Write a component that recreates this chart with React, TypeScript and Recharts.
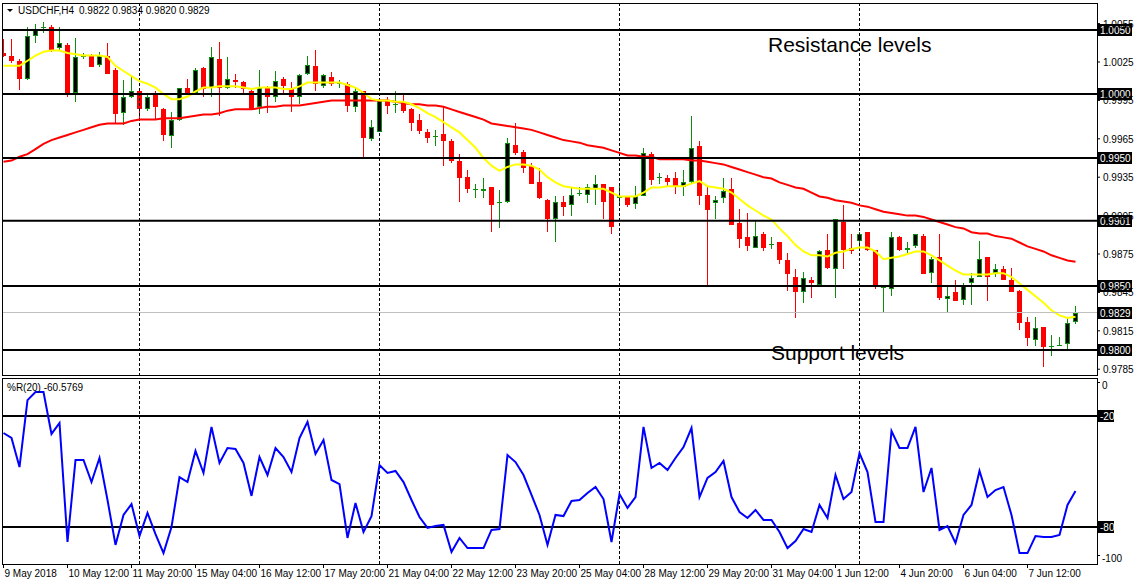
import React from "react";
import { ComposedChart, Bar, Line, XAxis, YAxis, ReferenceLine } from "recharts";

const FONT = "'Liberation Sans', Arial, sans-serif";
const UP = "#0e8c0e";
const DOWN = "#ff0000";

// USDCHF H4, bar 0 = 9 May 04:00
const OPEN = [
  1.0032, 1.003, 1.0026, 1.0012, 1.0045, 1.0052, 1.0052, 1.0036, 1.0038, 1.0001,
  1.0029, 1.003, 1.0023, 1.003, 1.0019, 0.9985, 0.9998, 1.0002, 0.9988, 0.9999,
  0.9988, 0.9967, 0.998, 1.0005, 1.0001, 1.002, 1.0005, 1.0027, 1.0005, 1.0011,
  1.0009, 1.0002, 0.999, 1.0005, 0.9998, 1.0012, 1.0005, 0.9998, 1.0016, 1.0022,
  1.0006, 1.0013, 1.0008, 1.0008, 0.999, 1.0002, 0.9965, 0.997, 0.9995, 0.9992,
  0.9993, 0.9988, 0.998, 0.997, 0.9967, 0.9969, 0.9963, 0.9948, 0.9935, 0.9926,
  0.9924, 0.9927, 0.9915, 0.9916, 0.996, 0.9955, 0.9944, 0.9931, 0.9917, 0.9902,
  0.9916, 0.9913, 0.9923, 0.9921, 0.9926, 0.993, 0.9927, 0.9919, 0.992, 0.9914,
  0.992, 0.9953, 0.9934, 0.9934, 0.9934, 0.9927, 0.9931, 0.9959, 0.9921, 0.9915,
  0.9919, 0.9926, 0.9899, 0.9888, 0.988, 0.9891, 0.9883, 0.9884, 0.987, 0.9857,
  0.9845, 0.9855, 0.9851, 0.9878, 0.9863, 0.99, 0.988, 0.9885, 0.9892, 0.9878,
  0.9849, 0.9848, 0.9888, 0.9878, 0.9881, 0.9889, 0.986, 0.9873, 0.984, 0.9845,
  0.9839, 0.9852, 0.9857, 0.9873, 0.986, 0.9863, 0.9855, 0.9846, 0.9822, 0.9808,
  0.9818, 0.9803, 0.9804, 0.9805, 0.9822,
];
const HIGH = [
  1.0043, 1.0043, 1.0027, 1.0052, 1.0055, 1.0056, 1.0054, 1.0052, 1.004, 1.0044,
  1.0032, 1.0031, 1.0033, 1.004, 1.002, 1.0011, 1.0013, 1.0003, 0.9999, 1.0002,
  0.9989, 0.9986, 1.0005, 1.0012, 1.002, 1.0021, 1.0037, 1.0041, 1.0029, 1.0016,
  1.001, 1.0003, 1.0019, 1.0006, 1.0018, 1.0013, 1.0009, 1.0016, 1.003, 1.0034,
  1.0016, 1.0017, 1.0011, 1.0009, 1.0005, 1.0002, 0.998, 0.9997, 0.9998, 1.0002,
  1.0001, 0.9989, 0.9984, 0.9973, 0.9972, 0.9991, 0.9965, 0.9953, 0.9941, 0.993,
  0.9934, 0.9927, 0.9925, 0.9966, 0.9977, 0.9956, 0.9946, 0.9942, 0.9918, 0.992,
  0.992, 0.9927, 0.9927, 0.993, 0.9937, 0.993, 0.9927, 0.993, 0.992, 0.9928,
  0.9958, 0.9955, 0.9938, 0.9937, 0.9939, 0.9941, 0.9983, 0.9963, 0.9928, 0.992,
  0.9934, 0.9934, 0.991, 0.9907, 0.9901, 0.9892, 0.9888, 0.9884, 0.9876, 0.9863,
  0.9861, 0.9857, 0.9878, 0.9891, 0.9902, 0.9913, 0.9891, 0.9892, 0.9892, 0.9878,
  0.9849, 0.9892, 0.9889, 0.9884, 0.9891, 0.9891, 0.9873, 0.9891, 0.9849, 0.9855,
  0.9852, 0.986, 0.9885, 0.9873, 0.9867, 0.9866, 0.9864, 0.9847, 0.9826, 0.9826,
  0.9818, 0.9812, 0.981, 0.9826, 0.9834,
];
const LOW = [
  1.0029, 1.0024, 1.0003, 1.0011, 1.004, 1.0048, 1.0033, 1.0034, 0.9998, 0.9994,
  1.0027, 1.0021, 1.0021, 1.0016, 0.9977, 0.9976, 0.9997, 0.9981, 0.9987, 0.998,
  0.9963, 0.9958, 0.9979, 0.9999, 0.9999, 0.9998, 0.9998, 0.9983, 1.0004, 1.0005,
  1.0001, 0.9988, 0.9984, 0.9985, 0.9994, 1.0001, 0.9986, 0.9992, 1.0015, 1.0002,
  1.0005, 1.0006, 1.0005, 0.9986, 0.9986, 0.9951, 0.9963, 0.997, 0.9984, 0.9985,
  0.9985, 0.9971, 0.9969, 0.9962, 0.9959, 0.9944, 0.9946, 0.9916, 0.9923, 0.9919,
  0.9919, 0.9892, 0.9895, 0.9915, 0.9952, 0.9938, 0.993, 0.9918, 0.9892, 0.9884,
  0.9905, 0.9905, 0.992, 0.9915, 0.9913, 0.9902, 0.9891, 0.9914, 0.9912, 0.991,
  0.992, 0.9929, 0.993, 0.9927, 0.9922, 0.992, 0.993, 0.9913, 0.9849, 0.9902,
  0.9915, 0.9898, 0.988, 0.9877, 0.988, 0.9877, 0.9879, 0.9867, 0.9846, 0.9825,
  0.9837, 0.9841, 0.9849, 0.9863, 0.9841, 0.9863, 0.9875, 0.988, 0.9877, 0.9848,
  0.9829, 0.9842, 0.9877, 0.9874, 0.988, 0.9859, 0.9852, 0.9839, 0.983, 0.9838,
  0.9835, 0.9835, 0.9857, 0.9838, 0.9857, 0.9855, 0.9845, 0.9816, 0.9803, 0.9803,
  0.9787, 0.9795, 0.9803, 0.9801, 0.982,
];
const CLOSE = [
  1.003, 1.0026, 1.0012, 1.0045, 1.0051, 1.0052, 1.0034, 1.004, 1.0001, 1.0029,
  1.003, 1.0021, 1.003, 1.0016, 0.9984, 0.9998, 1.0002, 0.9988, 0.9998, 0.999,
  0.9968, 0.998, 1.0005, 1.0001, 1.0019, 1.0004, 1.0029, 1.0005, 1.0012, 1.0009,
  1.0004, 0.9988, 1.0005, 0.9998, 1.001, 1.0006, 0.9998, 1.0015, 1.0023, 1.0008,
  1.0015, 1.0008, 1.0009, 0.9991, 1.0002, 0.9966, 0.9974, 0.9995, 0.9991, 0.9992,
  0.9987, 0.9977, 0.9971, 0.9966, 0.9967, 0.9963, 0.9948, 0.9934, 0.9926, 0.9926,
  0.9926, 0.9913, 0.9916, 0.9962, 0.9954, 0.9942, 0.993, 0.9919, 0.9902, 0.9916,
  0.9912, 0.9921, 0.9923, 0.9927, 0.993, 0.9916, 0.9896, 0.992, 0.9913, 0.992,
  0.9954, 0.9933, 0.9935, 0.9931, 0.9927, 0.9931, 0.9958, 0.992, 0.9909, 0.9917,
  0.9924, 0.9898, 0.9887, 0.9881, 0.9889, 0.988, 0.9883, 0.987, 0.9859, 0.9845,
  0.9856, 0.9852, 0.9877, 0.9864, 0.9902, 0.9878, 0.9877, 0.9891, 0.9878, 0.9849,
  0.9849, 0.9888, 0.9878, 0.988, 0.9891, 0.9859, 0.9871, 0.9841, 0.9842, 0.9838,
  0.9851, 0.9856, 0.9871, 0.9857, 0.9863, 0.9855, 0.9845, 0.9821, 0.9809, 0.9817,
  0.9802, 0.9803, 0.9804, 0.9821, 0.9829,
];
// yellow (fast) and red (slow) moving averages
const MA_FAST = [
  1.0022, 1.0022, 1.0022, 1.0026, 1.003, 1.0033, 1.0034, 1.0034, 1.0032, 1.0031,
  1.003, 1.003, 1.003, 1.0029, 1.0022, 1.0018, 1.0014, 1.001, 1.0008, 1.0005,
  1.0, 0.9996, 0.9996, 0.9998, 1.0002, 1.0005, 1.0005, 1.0006, 1.0006, 1.0006,
  1.0005, 1.0004, 1.0005, 1.0005, 1.0005, 1.0004, 1.0004, 1.0006, 1.0009, 1.0009,
  1.0009, 1.0009, 1.0009, 1.0007, 1.0005, 1.0001, 0.9996, 0.9995, 0.9995, 0.9994,
  0.9994, 0.9992, 0.9989, 0.9985, 0.9982, 0.9978, 0.9974, 0.997, 0.9964, 0.9958,
  0.995, 0.9944, 0.994, 0.9943, 0.9945, 0.9945, 0.9944, 0.9941, 0.9935, 0.9931,
  0.9928, 0.9927, 0.9926, 0.9926, 0.9926, 0.9926, 0.9923, 0.992, 0.992, 0.992,
  0.9923, 0.9927, 0.9927, 0.9928, 0.9928, 0.9928, 0.993, 0.9932, 0.9928, 0.9927,
  0.9926, 0.9923, 0.9918, 0.9913, 0.9909, 0.9905, 0.9902, 0.9895, 0.9889, 0.9882,
  0.9877, 0.9874, 0.9874, 0.9873, 0.9876, 0.9877, 0.9879, 0.988, 0.988, 0.9877,
  0.9871, 0.9872, 0.9873, 0.9875, 0.9877, 0.9877, 0.9874, 0.987, 0.9866, 0.9862,
  0.9859, 0.9859, 0.9859, 0.9859, 0.986, 0.986, 0.9857, 0.9852, 0.9847, 0.9842,
  0.9837, 0.9831, 0.9827, 0.9825, 0.9826,
];
const MA_SLOW = [
  0.9947, 0.9948, 0.9951, 0.9953, 0.9957, 0.9961, 0.9964, 0.9966, 0.9968, 0.997,
  0.9972, 0.9974, 0.9976, 0.9977, 0.9977, 0.9977, 0.9979, 0.998, 0.998, 0.998,
  0.9981, 0.9981, 0.9981, 0.9982, 0.9983, 0.9984, 0.9984, 0.9985, 0.9987, 0.9988,
  0.9988, 0.9988, 0.9989, 0.999, 0.999, 0.9991, 0.9991, 0.9991, 0.9992, 0.9993,
  0.9994, 0.9995, 0.9995, 0.9995, 0.9995, 0.9995, 0.9995, 0.9995, 0.9995, 0.9994,
  0.9993, 0.9992, 0.9992, 0.9991, 0.9991, 0.999, 0.9988, 0.9986, 0.9984, 0.9982,
  0.998, 0.9977, 0.9976, 0.9975, 0.9974, 0.9973, 0.9972, 0.997, 0.9968, 0.9966,
  0.9964, 0.9963, 0.9962, 0.996, 0.9959, 0.9958, 0.9956, 0.9954, 0.9952, 0.9952,
  0.9951, 0.9951, 0.9949, 0.9949, 0.9949, 0.9949, 0.9948, 0.9948, 0.9947, 0.9946,
  0.9945, 0.9943, 0.9941, 0.9939, 0.9937, 0.9935, 0.9934, 0.9931, 0.9929, 0.9927,
  0.9926, 0.9923, 0.992, 0.9919, 0.9917, 0.9916, 0.9915, 0.9913, 0.9912, 0.991,
  0.9908, 0.9907, 0.9906, 0.9905, 0.9905, 0.9904, 0.9902, 0.99, 0.9898, 0.9896,
  0.9895, 0.9892, 0.9891, 0.9891, 0.9889, 0.9888, 0.9887, 0.9884, 0.9881, 0.9879,
  0.9877, 0.9874, 0.9872, 0.987, 0.9869,
];
// Williams %R(20)
const WPR = [
  -29.2, -31.9, -47.6, -11.4, -7, -7, -29.7, -23.8, -88.1, -43.8,
  -43.8, -55.7, -42.7, -65.4, -89.7, -73.5, -67.6, -84.9, -72.4, -83.8,
  -94.1, -80, -53, -55.7, -38.9, -50.8, -25.9, -45.4, -37.3, -37.8,
  -45.4, -63.2, -42.2, -51.9, -37.3, -42.2, -50.3, -31.9, -23.2, -40.5,
  -33, -54.6, -56.8, -85.9, -67, -82.7, -74.1, -46.5, -50.8, -49.7,
  -55.7, -65.4, -74.6, -80.5, -79.5, -78.9, -93.5, -85.9, -91.4, -91.4,
  -91.4, -81.6, -81.1, -41.1, -44.9, -51.9, -62.7, -73.5, -89.7, -73.5,
  -74.1, -65.9, -65.4, -61.6, -58.4, -64.9, -88.1, -62.2, -69.7, -63.8,
  -25.9, -48.1, -45.4, -49.2, -42.7, -36.8, -26.5, -63.8, -53.5, -50.3,
  -44.3, -63.8, -71.9, -75.1, -70.8, -76.2, -76.2, -82.7, -91.4, -87.6,
  -81.1, -82.7, -68.1, -75.1, -51.9, -64.9, -61.1, -40, -50.3, -77.3,
  -77.3, -28.1, -37.3, -37.3, -25.9, -61.1, -48.1, -81.6, -79.5, -88.6,
  -73.5, -68.1, -49.7, -63.8, -60, -58.4, -73.5, -94.1, -94.1, -84.9,
  -85.4, -85.4, -84.3, -68.1, -60.6,
];

const LEVELS = [1.005, 1.0, 0.995, 0.9901, 0.985, 0.98];
const BID = 0.9829;
const PRICE_TICKS = [1.0055, 1.0025, 0.9995, 0.9965, 0.9935, 0.9905, 0.9875, 0.9845, 0.9815, 0.9785];
const WPR_LEVELS = [-20, -80];
const WEEK_STARTS = [17, 47, 77, 107];
const TIME_TICKS = [0, 8, 16, 24, 32, 40, 48, 56, 64, 72, 80, 88, 96, 104, 112, 120, 128];
const TIME_LABELS = [
  "9 May 2018", "10 May 12:00", "11 May 20:00", "15 May 04:00", "16 May 12:00",
  "17 May 20:00", "21 May 04:00", "22 May 12:00", "23 May 20:00", "25 May 04:00",
  "28 May 12:00", "29 May 20:00", "31 May 04:00", "1 Jun 12:00", "4 Jun 20:00",
  "6 Jun 04:00", "7 Jun 12:00",
];

const X_DOMAIN = [-0.1875, 136.6875];

const rows = OPEN.map((o, i) => ({
  i,
  o,
  h: HIGH[i],
  l: LOW[i],
  c: CLOSE[i],
  fast: MA_FAST[i],
  slow: MA_SLOW[i],
  wpr: WPR[i],
}));

function Candle(props: any) {
  const { x, y, width, height, payload } = props;
  if (!payload || height == null) return null;
  const { o, h, l, c } = payload;
  const k = height / (h - l);
  const py = (p: number) => y + (h - p) * k;
  const cx = x + width / 2;
  const top = Math.round(py(Math.max(o, c)));
  const bot = Math.round(py(Math.min(o, c)));
  const up = c >= o;
  const col = up ? UP : DOWN;
  let body;
  if (bot - top < 2) {
    body = <line x1={x} x2={x + width} y1={top + 0.5} y2={top + 0.5} stroke={col} />;
  } else if (up) {
    body = <rect x={x + 0.5} y={top + 0.5} width={width - 1} height={bot - top - 1} fill="#000" stroke={col} />;
  } else {
    body = <rect x={x} y={top} width={width} height={bot - top} fill={col} />;
  }
  return (
    <g shapeRendering="crispEdges">
      <line x1={cx} x2={cx} y1={y} y2={y + height} stroke={col} />
      {body}
    </g>
  );
}

function LevelTag({ viewBox, text, w = 34 }: any) {
  if (!viewBox) return null;
  const left = viewBox.x + viewBox.width + 1;
  const cy = Math.round(viewBox.y);
  return (
    <g>
      <rect x={left} y={cy - 6} width={w} height={12} fill="#000" />
      <text x={left + 2} y={cy + 4} fill="#fff" fontSize={10} fontFamily={FONT}>
        {text}
      </text>
    </g>
  );
}

function PriceTick({ x, y, payload }: any) {
  return (
    <text x={x + 1} y={y + 4} fontSize={10} fontFamily={FONT} fill="#000">
      {payload.value.toFixed(4)}
    </text>
  );
}

function WprTick({ y, payload }: any) {
  const cy = payload.value === 0 ? y + 6 : y - 6;
  return (
    <g>
      <line x1={1097} x2={1100} y1={cy - 2.5} y2={cy - 2.5} stroke="#000" shapeRendering="crispEdges" />
      <text x={1102} y={cy + 4} fontSize={10} fontFamily={FONT} fill="#000">
        {payload.value}
      </text>
    </g>
  );
}

function TimeTick({ x, y, payload }: any) {
  const label = TIME_LABELS[TIME_TICKS.indexOf(payload.value)];
  return (
    <g>
      <line x1={x} x2={x} y1={y} y2={y + 4} stroke="#000" shapeRendering="crispEdges" />
      <text x={x + 1} y={y + 13} fontSize={10} fontFamily={FONT} fill="#000">
        {label}
      </text>
    </g>
  );
}

export default function App() {
  return (
    <div style={{ position: "fixed", left: 0, top: 0, width: 1136, height: 585, background: "#fff", overflow: "hidden" }}>
      <div style={{ position: "absolute", left: 0, top: 0 }}>
        <ComposedChart width={1136} height={378} data={rows} margin={{ top: 3, right: 0, bottom: 2, left: 2 }}>
          <XAxis dataKey="i" type="number" domain={X_DOMAIN} allowDataOverflow hide />
          <YAxis
            orientation="right"
            type="number"
            domain={[0.97797, 1.00711]}
            allowDataOverflow
            ticks={PRICE_TICKS}
            interval={0}
            width={39}
            axisLine={false}
            tickLine={{ stroke: "#000" }}
            tickSize={3}
            tick={<PriceTick />}
          />
          {WEEK_STARTS.map((w) => (
            <ReferenceLine key={"w" + w} x={w} stroke="#000" strokeDasharray="3 2" shapeRendering="crispEdges" />
          ))}
          <Bar dataKey={(d: any) => [d.l, d.h]} barSize={5} shape={<Candle />} isAnimationActive={false} />
          <Line dataKey="slow" stroke="#ff0000" strokeWidth={2} dot={false} activeDot={false} isAnimationActive={false} />
          <Line dataKey="fast" stroke="#ffff00" strokeWidth={2} dot={false} activeDot={false} isAnimationActive={false} />
          <ReferenceLine
            y={BID}
            stroke="#c0c0c0"
            shapeRendering="crispEdges"
            label={<LevelTag text={BID.toFixed(4)} />}
          />
          {LEVELS.map((lv) => (
            <ReferenceLine
              key={"l" + lv}
              y={lv}
              stroke="#000"
              strokeWidth={2}
              label={<LevelTag text={lv.toFixed(4)} />}
            />
          ))}
        </ComposedChart>
      </div>
      <div style={{ position: "absolute", left: 0, top: 378 }}>
        <ComposedChart width={1136} height={207} data={rows} margin={{ top: 1, right: 0, bottom: 0, left: 2 }}>
          <XAxis
            dataKey="i"
            type="number"
            domain={X_DOMAIN}
            allowDataOverflow
            ticks={TIME_TICKS}
            interval={0}
            height={21}
            axisLine={false}
            tickLine={false}
            tickSize={0}
            tickMargin={0}
            tick={<TimeTick />}
          />
          <YAxis
            orientation="right"
            type="number"
            domain={[-100, 0]}
            allowDataOverflow
            ticks={[0, -100]}
            interval={0}
            width={39}
            axisLine={false}
            tickLine={false}
            tick={<WprTick />}
          />
          {WEEK_STARTS.map((w) => (
            <ReferenceLine key={"w" + w} x={w} stroke="#000" strokeDasharray="3 2" shapeRendering="crispEdges" />
          ))}
          {WPR_LEVELS.map((lv) => (
            <ReferenceLine
              key={"r" + lv}
              y={lv}
              stroke="#000"
              strokeWidth={2}
              label={<LevelTag text={String(lv)} w={16} />}
            />
          ))}
          <Line dataKey="wpr" stroke="#0000ff" strokeWidth={2} dot={false} activeDot={false} isAnimationActive={false} />
        </ComposedChart>
      </div>
      <svg
        width={1136}
        height={585}
        style={{ position: "absolute", left: 0, top: 0, pointerEvents: "none" }}
        fontFamily={FONT}
      >
        <g stroke="#000" shapeRendering="crispEdges" fill="none">
          <path d="M1097.5 3.5 H2.5 V375.5 H1097.5 V3.5" />
          <path d="M1097.5 378.5 H2.5 V564.5 H1097.5 V378.5" />
        </g>
        <path d="M7 9 H13 L10 12 Z" fill="#000" />
        <text x={18} y={14} fontSize={10} fill="#000">USDCHF,H4</text>
        <text x={79} y={14} fontSize={10} fill="#000">0.9822 0.9834 0.9820 0.9829</text>
        <text x={768} y={52} fontSize={21} fill="#000">Resistance levels</text>
        <text x={771} y={360} fontSize={21} fill="#000">Support levels</text>
        <text x={7} y={391} fontSize={10} fill="#000">%R(20) -60.5769</text>
      </svg>
    </div>
  );
}
